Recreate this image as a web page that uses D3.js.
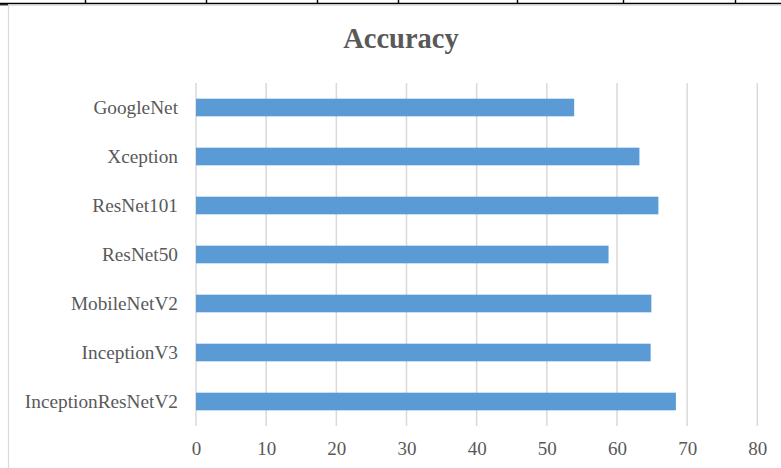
<!DOCTYPE html>
<html>
<head>
<meta charset="utf-8">
<script src="https://cdn.jsdelivr.net/npm/d3@7"></script>
<style>
  html, body { margin: 0; padding: 0; background: #fff; }
  svg { display: block; }
</style>
</head>
<body>
<svg id="chart" width="781" height="468"></svg>
<script>
// Model names, drawn top to bottom
const models = ["GoogleNet", "Xception", "ResNet101", "ResNet50", "MobileNetV2", "InceptionV3", "InceptionResNetV2"];
// Accuracy (%) per model
const accuracy = [53.9, 63.2, 65.9, 58.8, 64.9, 64.8, 68.4];
// Axis ticks
const xTicks = [0, 10, 20, 30, 40, 50, 60, 70, 80];

const svg = d3.select("#chart");
const textColor = "#595959";
const serif = "'Liberation Serif', 'Times New Roman', serif";

// Table rule above the chart frame
svg.append("line").attr("x1", 0).attr("x2", 781).attr("y1", 3.5).attr("y2", 3.5)
  .attr("stroke", "#000").attr("stroke-width", 1.6);
svg.append("line").attr("x1", 0).attr("x2", 8).attr("y1", 4.8).attr("y2", 4.8)
  .attr("stroke", "#000").attr("stroke-width", 1.2);
[85, 206, 317, 398, 517, 623, 735].forEach(x => {
  svg.append("line").attr("x1", x + 0.5).attr("x2", x + 0.5).attr("y1", 0).attr("y2", 3.5)
    .attr("stroke", "#000").attr("stroke-width", 1.4);
});

// Chart frame
svg.append("rect").attr("x", 8.5).attr("y", 5.2).attr("width", 800).attr("height", 500)
  .attr("fill", "#fff").attr("stroke", "#d9d9d9").attr("stroke-width", 1.2);

const plot = { left: 196, right: 757.3, top: 83, bottom: 426 };

const x = d3.scaleLinear().domain([0, 80]).range([plot.left, plot.right]);
const y = d3.scaleBand().domain(models).range([plot.top, plot.bottom])
  .paddingInner(0.64).paddingOuter(0.32);

// Title
svg.append("text").attr("x", 401).attr("y", 48).attr("text-anchor", "middle")
  .attr("font-family", serif).attr("font-weight", "bold").attr("font-size", 28.5)
  .attr("fill", textColor).text("Accuracy");

// Vertical gridlines
svg.append("g").selectAll("line").data(xTicks).join("line")
  .attr("x1", d => x(d)).attr("x2", d => x(d))
  .attr("y1", plot.top).attr("y2", plot.bottom)
  .attr("stroke", "#d9d9d9").attr("stroke-width", 1.5);

// Bars
svg.append("g").selectAll("rect").data(models).join("rect")
  .attr("x", x(0))
  .attr("y", d => y(d))
  .attr("width", (d, i) => x(accuracy[i]) - x(0))
  .attr("height", y.bandwidth())
  .attr("fill", "#5b9bd5");

// Bottom axis labels
const xAxis = svg.append("g").attr("transform", `translate(0,${plot.bottom})`)
  .call(d3.axisBottom(x).tickValues(xTicks).tickSize(0).tickPadding(20));
xAxis.select(".domain").remove();
xAxis.selectAll("text").attr("font-family", serif).attr("font-size", 19)
  .attr("fill", textColor).attr("dy", "0.71em").attr("y", 16);

// Category labels
const yAxis = svg.append("g").attr("transform", `translate(${plot.left},0)`)
  .call(d3.axisLeft(y).tickSize(0).tickPadding(18));
yAxis.select(".domain").remove();
yAxis.selectAll("text").attr("font-family", serif).attr("font-size", 19.3)
  .attr("fill", textColor);
</script>
</body>
</html>
